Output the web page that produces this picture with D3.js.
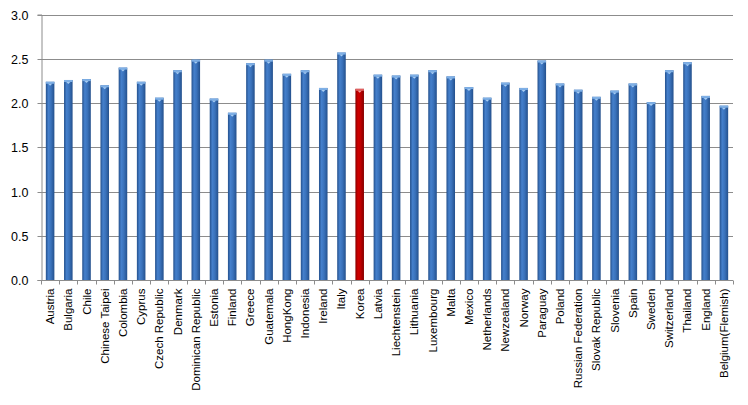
<!DOCTYPE html>
<html><head><meta charset="utf-8">
<script src="https://cdn.jsdelivr.net/npm/d3@7"></script>
<style>body{margin:0;background:#fff}svg{display:block}</style>
</head><body>
<script>
const categories = ["Austria","Bulgaria","Chile","Chinese Taipei","Colombia","Cyprus","Czech Republic","Denmark","Dominican Republic","Estonia","Finland","Greece","Guatemala","HongKong","Indonesia","Ireland","Italy","Korea","Latvia","Liechtenstein","Lithuania","Luxembourg","Malta","Mexico","Netherlands","Newzealand","Norway","Paraguay","Poland","Russian Federation","Slovak Republic","Slovenia","Spain","Sweden","Switzerland","Thailand","England","Belgium(Flemish)"];
const values = [2.24,2.26,2.27,2.20,2.40,2.24,2.06,2.37,2.49,2.05,1.89,2.45,2.49,2.33,2.37,2.17,2.57,2.16,2.32,2.31,2.32,2.37,2.30,2.18,2.06,2.23,2.17,2.48,2.22,2.15,2.07,2.14,2.22,2.01,2.37,2.46,2.08,1.97];
const highlight = ["Korea"];
const yTicks = [0,0.5,1.0,1.5,2.0,2.5,3.0];

const W=748,H=405;
const m={left:41,right:15,top:14.5,bottom:125};
const svg=d3.select("body").append("svg").attr("width",W).attr("height",H);
const defs=svg.append("defs");
function grad(id,c1,c2,c3){
  const g=defs.append("linearGradient").attr("id",id).attr("x1","0").attr("x2","1").attr("y1","0").attr("y2","0");
  g.append("stop").attr("offset","0%").attr("stop-color",c1);
  g.append("stop").attr("offset","30%").attr("stop-color",c2);
  g.append("stop").attr("offset","60%").attr("stop-color",c3);
  g.append("stop").attr("offset","100%").attr("stop-color",c1);
}
grad("gb","#24508c","#4580cc","#3a72bb");
grad("gr","#840000","#d00000","#c00000");

const x=d3.scaleBand().domain(categories).range([m.left,W-m.right]).paddingInner(0.53).paddingOuter(0.265);
const y=d3.scaleLinear().domain([0,3]).range([H-m.bottom,m.top]);

// gridlines
svg.append("g").selectAll("line").data(yTicks).join("line")
  .attr("x1",m.left).attr("x2",W-m.right)
  .attr("y1",d=>Math.round(y(d))+0.5).attr("y2",d=>Math.round(y(d))+0.5)
  .attr("stroke","#8c8c8c").attr("stroke-width",1);

// y axis
const ya=svg.append("g").attr("transform",`translate(${m.left+0.5},0)`)
  .call(d3.axisLeft(y).tickValues(yTicks).tickFormat(d3.format(".1f")).tickSize(4).tickPadding(9));
ya.select(".domain").attr("stroke","#8c8c8c");
ya.selectAll(".tick line").attr("stroke","#8c8c8c");
ya.selectAll(".tick").attr("transform",d=>`translate(0,${Math.round(y(d))+0.5})`);
ya.selectAll("text").attr("font-family","Liberation Sans, Arial, sans-serif").attr("font-size","12.5px").attr("fill","#000");

// bars
const bars=svg.append("g").selectAll("g").data(categories).join("g");
bars.append("rect")
  .attr("x",d=>x(d)).attr("width",x.bandwidth())
  .attr("y",(d,i)=>y(values[i])).attr("height",(d,i)=>y(0)-y(values[i]))
  .attr("fill",d=>highlight.includes(d)?"url(#gr)":"url(#gb)");
bars.append("rect")
  .attr("x",d=>x(d)).attr("width",x.bandwidth())
  .attr("y",(d,i)=>y(values[i])).attr("height",2)
  .attr("fill",d=>highlight.includes(d)?"#e06060":"#7fb0e6");
bars.append("path")
  .attr("d",(d,i)=>{const cx=x(d)+x.bandwidth()/2, ty=y(values[i])+2; return `M${cx-2},${ty}L${cx+2},${ty}L${cx},${ty+2}Z`;})
  .attr("fill",d=>highlight.includes(d)?"#f0a0a0":"#a8cdf2");

// x axis
const xa=svg.append("g").attr("transform",`translate(0,${Math.round(y(0))+0.5})`);
xa.append("line").attr("x1",m.left).attr("x2",W-m.right).attr("stroke","#8c8c8c");
const bounds=d3.range(categories.length+1).map(i=>m.left+i*(W-m.left-m.right)/categories.length);
xa.selectAll(".tk").data(bounds).join("line").attr("class","tk")
  .attr("x1",d=>Math.round(d)+0.5).attr("x2",d=>Math.round(d)+0.5).attr("y1",0).attr("y2",4)
  .attr("stroke","#8c8c8c");
xa.selectAll("text").data(categories).join("text")
  .attr("transform",d=>`translate(${x(d)+x.bandwidth()/2+4},8) rotate(-90)`)
  .attr("text-anchor","end")
  .attr("font-family","Liberation Sans, Arial, sans-serif").attr("font-size","11.5px").attr("fill","#000")
  .text(d=>d);
</script>
</body></html>
